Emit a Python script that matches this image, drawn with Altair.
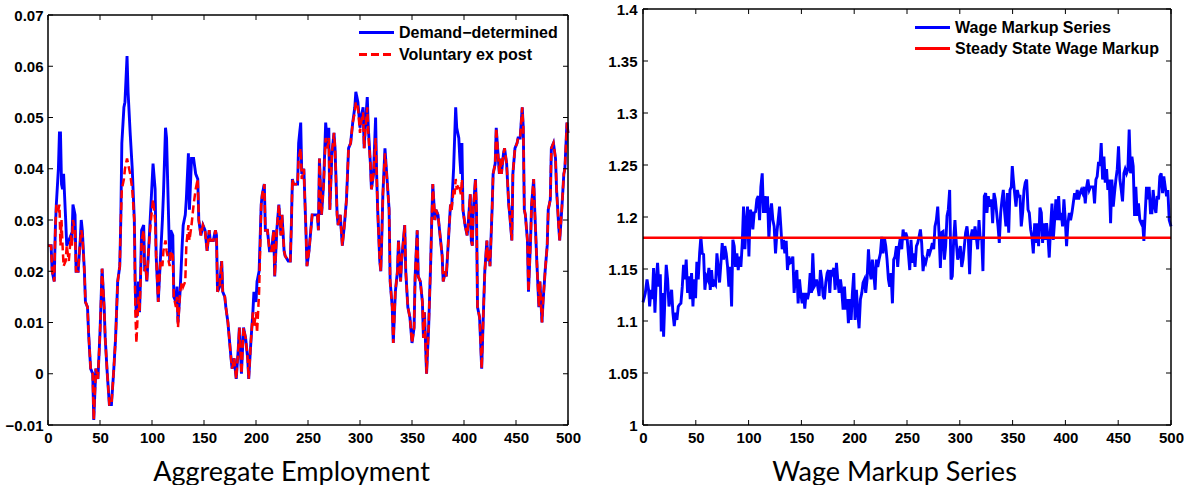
import altair as alt
import pandas as pd

# ---------------- data: Aggregate Employment ----------------
t_emp = [
    0, 3, 4, 6, 7, 8, 10, 11, 12, 13,
    14, 15, 17, 18, 20, 22, 23, 24, 26, 27,
    29, 31, 32, 33, 35, 36, 38, 39, 41, 43,
    44, 46, 48, 50, 52, 54, 55, 57, 59, 61,
    63, 65, 67, 69, 70, 71, 73, 74, 76, 77,
    79, 81, 83, 84, 85, 87, 88, 89, 90, 92,
    93, 94, 95, 97, 99, 101, 103, 104, 106, 108,
    110, 111, 113, 114, 116, 117, 118, 120, 121, 123,
    124, 125, 127, 129, 130, 132, 133, 135, 136, 138,
    140, 142, 144, 145, 147, 149, 151, 153, 155, 156,
    159, 161, 162, 163, 165, 167, 168, 170, 171, 173,
    176, 177, 179, 181, 183, 184, 186, 188, 190, 192,
    193, 195, 197, 198, 200, 201, 203, 205, 206, 208,
    209, 211, 213, 215, 217, 218, 220, 222, 224, 225,
    227, 228, 231, 233, 234, 235, 236, 238, 240, 241,
    243, 244, 246, 248, 249, 251, 254, 257, 259, 260,
    261, 263, 265, 267, 269, 270, 271, 273, 275, 276,
    278, 279, 281, 283, 285, 287, 289, 291, 293, 295,
    296, 298, 300, 301, 303, 304, 305, 307, 308, 310,
    311, 313, 315, 316, 317, 319, 320, 321, 322, 324,
    326, 328, 329, 331, 332, 334, 336, 337, 339, 340,
    343, 344, 346, 348, 350, 352, 353, 355, 356, 358,
    360, 361, 362, 363, 364, 366, 368, 369, 370, 372,
    373, 375, 377, 379, 380, 382, 383, 385, 387, 388,
    390, 391, 392, 393, 395, 396, 397, 398, 399, 401,
    403, 404, 406, 407, 408, 409, 411, 412, 413, 415,
    416, 417, 419, 420, 422, 423, 424, 425, 427, 428,
    430, 431, 432, 434, 435, 436, 438, 439, 441, 443,
    444, 446, 447, 449, 451, 452, 454, 456, 457, 458,
    459, 461, 462, 464, 465, 467, 468, 470, 472, 473,
    475, 476, 478, 480, 481, 483, 484, 486, 488, 489,
    491, 492, 494, 496, 497, 499, 500]

demand = [
    0.025, 0.025, 0.020, 0.018, 0.028, 0.033, 0.040, 0.047, 0.047, 0.037,
    0.036, 0.039, 0.030, 0.025, 0.026, 0.027, 0.026, 0.033, 0.031, 0.020,
    0.020, 0.026, 0.030, 0.028, 0.020, 0.014, 0.013, 0.008, 0.001, 0.000,
    -0.009, 0.001, -0.001, 0.008, 0.0205, 0.013, 0.007, 0.000, -0.006, -0.006,
    0.000, 0.007, 0.018, 0.021, 0.030, 0.045, 0.052, 0.053, 0.062, 0.055,
    0.047, 0.040, 0.030, 0.016, 0.011, 0.018, 0.012, 0.019, 0.028, 0.029,
    0.020, 0.021, 0.018, 0.025, 0.033, 0.041, 0.036, 0.023, 0.014, 0.022,
    0.030, 0.035, 0.048, 0.046, 0.030, 0.022, 0.028, 0.027, 0.015, 0.014,
    0.017, 0.010, 0.016, 0.025, 0.029, 0.031, 0.034, 0.043, 0.032, 0.042,
    0.042, 0.039, 0.038, 0.030, 0.027, 0.029, 0.028, 0.024, 0.028, 0.026,
    0.026, 0.028, 0.027, 0.016, 0.017, 0.022, 0.016, 0.015, 0.013, 0.010,
    0.003, 0.001, 0.003, -0.001, 0.005, 0.009, 0.000, 0.009, 0.007, 0.003,
    -0.001, 0.006, 0.012, 0.016, 0.014, 0.018, 0.020, 0.033, 0.035, 0.037,
    0.028, 0.028, 0.024, 0.024, 0.028, 0.019, 0.028, 0.033, 0.027, 0.031,
    0.024, 0.023, 0.022, 0.022, 0.029, 0.038, 0.037, 0.037, 0.037, 0.045,
    0.049, 0.039, 0.040, 0.028, 0.021, 0.024, 0.031, 0.031, 0.031, 0.028,
    0.042, 0.031, 0.037, 0.049, 0.044, 0.048, 0.032, 0.043, 0.047, 0.044,
    0.031, 0.029, 0.031, 0.025, 0.029, 0.034, 0.044, 0.045, 0.049, 0.052,
    0.055, 0.053, 0.048, 0.050, 0.052, 0.044, 0.048, 0.054, 0.048, 0.041,
    0.036, 0.039, 0.050, 0.039, 0.032, 0.022, 0.020, 0.027, 0.035, 0.044,
    0.038, 0.032, 0.018, 0.013, 0.006, 0.016, 0.020, 0.026, 0.018, 0.022,
    0.029, 0.020, 0.013, 0.011, 0.006, 0.009, 0.019, 0.028, 0.019, 0.018,
    0.014, 0.007, 0.012, 0.006, 0.000, 0.009, 0.022, 0.030, 0.037, 0.030,
    0.032, 0.031, 0.027, 0.023, 0.018, 0.020, 0.019, 0.026, 0.033, 0.032,
    0.040, 0.046, 0.052, 0.048, 0.046, 0.042, 0.039, 0.045, 0.032, 0.029,
    0.027, 0.029, 0.035, 0.026, 0.025, 0.032, 0.038, 0.032, 0.013, 0.011,
    0.006, 0.001, 0.014, 0.020, 0.026, 0.022, 0.024, 0.021, 0.032, 0.039,
    0.041, 0.048, 0.045, 0.039, 0.042, 0.039, 0.043, 0.044, 0.041, 0.033,
    0.031, 0.026, 0.039, 0.044, 0.045, 0.046, 0.046, 0.052, 0.048, 0.032,
    0.031, 0.026, 0.016, 0.026, 0.033, 0.038, 0.032, 0.022, 0.013, 0.018,
    0.010, 0.014, 0.020, 0.025, 0.032, 0.034, 0.044, 0.045, 0.042, 0.036,
    0.029, 0.026, 0.032, 0.039, 0.040, 0.049, 0.047]

voluntary = [
    0.025, 0.025, 0.020, 0.018, 0.028, 0.033, 0.032, 0.033, 0.025, 0.030,
    0.025, 0.021, 0.022, 0.025, 0.022, 0.027, 0.025, 0.030, 0.028, 0.020,
    0.020, 0.026, 0.028, 0.027, 0.020, 0.014, 0.013, 0.008, 0.001, 0.000,
    -0.009, 0.001, -0.001, 0.008, 0.0205, 0.013, 0.007, 0.000, -0.006, -0.006,
    0.000, 0.007, 0.018, 0.021, 0.030, 0.036, 0.038, 0.040, 0.042, 0.041,
    0.039, 0.036, 0.030, 0.012, 0.006, 0.015, 0.012, 0.018, 0.026, 0.028,
    0.020, 0.021, 0.018, 0.025, 0.030, 0.034, 0.030, 0.023, 0.014, 0.022,
    0.021, 0.024, 0.026, 0.024, 0.022, 0.021, 0.024, 0.023, 0.015, 0.013,
    0.015, 0.009, 0.016, 0.018, 0.017, 0.018, 0.025, 0.029, 0.026, 0.029,
    0.033, 0.036, 0.038, 0.030, 0.027, 0.029, 0.028, 0.024, 0.028, 0.026,
    0.026, 0.028, 0.027, 0.016, 0.017, 0.022, 0.016, 0.015, 0.013, 0.010,
    0.003, 0.001, 0.003, -0.001, 0.005, 0.009, 0.000, 0.009, 0.007, 0.003,
    -0.001, 0.006, 0.012, 0.009, 0.012, 0.008, 0.016, 0.033, 0.035, 0.037,
    0.028, 0.028, 0.024, 0.024, 0.028, 0.019, 0.028, 0.033, 0.027, 0.031,
    0.024, 0.023, 0.022, 0.022, 0.029, 0.038, 0.037, 0.037, 0.037, 0.042,
    0.044, 0.038, 0.040, 0.028, 0.021, 0.024, 0.031, 0.031, 0.031, 0.028,
    0.042, 0.031, 0.037, 0.046, 0.044, 0.046, 0.032, 0.043, 0.047, 0.044,
    0.031, 0.029, 0.031, 0.025, 0.029, 0.034, 0.044, 0.045, 0.049, 0.051,
    0.053, 0.052, 0.047, 0.049, 0.051, 0.044, 0.047, 0.052, 0.047, 0.041,
    0.036, 0.039, 0.046, 0.039, 0.032, 0.022, 0.020, 0.027, 0.035, 0.043,
    0.038, 0.032, 0.018, 0.013, 0.006, 0.016, 0.020, 0.026, 0.018, 0.022,
    0.029, 0.020, 0.013, 0.011, 0.006, 0.009, 0.019, 0.028, 0.019, 0.018,
    0.014, 0.007, 0.012, 0.006, 0.000, 0.009, 0.022, 0.030, 0.037, 0.030,
    0.032, 0.031, 0.027, 0.023, 0.018, 0.020, 0.019, 0.026, 0.033, 0.032,
    0.036, 0.035, 0.038, 0.036, 0.037, 0.036, 0.035, 0.038, 0.032, 0.029,
    0.027, 0.029, 0.035, 0.026, 0.025, 0.032, 0.038, 0.032, 0.013, 0.011,
    0.006, 0.001, 0.014, 0.020, 0.026, 0.022, 0.024, 0.021, 0.032, 0.039,
    0.041, 0.048, 0.045, 0.039, 0.042, 0.039, 0.043, 0.044, 0.041, 0.033,
    0.031, 0.026, 0.039, 0.044, 0.045, 0.046, 0.046, 0.052, 0.048, 0.032,
    0.031, 0.026, 0.016, 0.026, 0.033, 0.038, 0.032, 0.022, 0.013, 0.018,
    0.010, 0.014, 0.020, 0.025, 0.032, 0.034, 0.044, 0.045, 0.042, 0.036,
    0.029, 0.026, 0.032, 0.039, 0.040, 0.049, 0.047]

# ---------------- data: Wage Markup Series ----------------
t_wage = [
    0, 2.2, 3.8, 5.3, 6.3, 7.5, 8.8, 10, 11.3, 12.6,
    13.8, 15.1, 16.4, 17.3, 18.6, 19.5, 20.8, 22, 23.3, 24.6,
    25.8, 27.1, 28.3, 29.6, 30.9, 32.1, 33.4, 34.7, 35.9, 37.2,
    38.4, 39.7, 40.9, 42.2, 43.5, 44.7, 46, 47.3, 48.5, 49.8,
    51, 52.3, 53.6, 54.8, 56.1, 57.4, 58.6, 59.9, 61.2, 62.4,
    63.7, 64.9, 66.2, 67.5, 68.7, 70, 71.2, 72.5, 73.8, 75,
    76.3, 77.5, 78.8, 80.1, 81.3, 82.6, 83.9, 85.1, 86.4, 87.6,
    88.9, 90.2, 91.4, 92.7, 94, 95.2, 96.5, 97.7, 99, 100.3,
    101.5, 102.8, 104, 105.3, 106.6, 107.8, 109.1, 110.4, 111.6, 112.9,
    114.1, 115.4, 116.7, 117.9, 119.2, 120.5, 121.7, 123, 124.2, 125.5,
    126.8, 128, 129.3, 130.5, 131.8, 133.1, 134.3, 135.6, 136.8, 138.1,
    139.4, 140.6, 141.9, 143.1, 144.4, 145.7, 146.9, 148.2, 149.4, 150.7,
    152, 153.2, 154.5, 155.8, 157, 158.3, 159.5, 160.8, 162.1, 163.2,
    164.3, 165.5, 166.8, 168, 169.3, 170.6, 171.8, 173.1, 174.4, 175.6,
    176.9, 178.1, 179.4, 180.7, 181.9, 183.2, 184.4, 185.7, 187, 188.2,
    189.5, 190.8, 192, 193.3, 194.5, 195.8, 197.1, 198.3, 199.6, 200.8,
    202.1, 203.4, 204.6, 205.9, 207.2, 208.4, 209.7, 210.9, 212.2, 213.5,
    214.7, 216, 217.2, 218.5, 219.8, 221, 222.3, 223.5, 224.8, 226.1,
    227.3, 228.6, 229.9, 231.1, 232.4, 233.6, 234.9, 236.2, 237.4, 238.7,
    240, 241.2, 242.5, 243.7, 245, 246.3, 247.5, 248.8, 250, 251.3,
    252.6, 253.8, 255.1, 256.3, 257.6, 258.9, 260.1, 261.4, 262.7, 263.9,
    265.2, 266.4, 267.7, 269, 270.2, 271.5, 272.7, 274, 275.3, 276.5,
    277.8, 279.1, 280.3, 281.6, 282.8, 284.1, 285.4, 286.6, 287.9, 289.1,
    290.4, 291.7, 292.9, 294.2, 295.4, 296.7, 298, 299.2, 300.5, 301.8,
    303, 304.3, 305.5, 306.8, 308.1, 309.3, 310.6, 311.8, 313.1, 314.4,
    315.6, 316.9, 318.2, 319.4, 320.7, 321.9, 323.2, 324.5, 325.7, 327,
    328.2, 329.9, 331.1, 332.4, 333.6, 334.9, 336.2, 337.4, 338.7, 340,
    341.2, 342.5, 343.7, 345, 346.3, 347.5, 348.8, 349.7, 350.7, 351.9,
    353.2, 354.5, 355.7, 357, 358.2, 359.5, 360.8, 362, 363.3, 364.6,
    365.8, 367.1, 368.3, 369.6, 370.9, 372.1, 373.4, 374.6, 375.9, 377.2,
    378.4, 379.7, 380.9, 382.2, 383.5, 384.7, 386, 387.3, 388.5, 389.8,
    391, 392.3, 393.6, 394.8, 396.1, 397.3, 398.6, 399.9, 401.1, 402.4,
    403.7, 404.9, 406.2, 407.4, 408.7, 410, 411.2, 412.5, 413.8, 415,
    416.3, 417.5, 418.8, 420.1, 421.3, 422.6, 423.8, 425.1, 426.4, 427.6,
    428.9, 430.1, 431.4, 432.7, 433.9, 435.2, 436.5, 437.7, 439, 440.2,
    441.5, 442.8, 444, 445.3, 446.5, 447.8, 449.1, 450.3, 451.6, 452.9,
    454.1, 455.4, 456.6, 457.9, 459.2, 460.4, 461.7, 463, 464.2, 465.5,
    466.7, 468, 469.2, 470.5, 471.8, 473, 474.3, 475.6, 476.8, 478.1,
    479.3, 480.6, 481.9, 483.1, 484.4, 485.7, 486.9, 488.2, 489.4, 490.7,
    492, 493.2, 494.5, 495.8, 497, 498.3, 500]

wage = [
    1.118, 1.127, 1.140, 1.130, 1.114, 1.130, 1.121, 1.151, 1.108, 1.140,
    1.156, 1.133, 1.145, 1.090, 1.127, 1.085, 1.124, 1.154, 1.140, 1.114,
    1.121, 1.130, 1.108, 1.095, 1.108, 1.101, 1.114, 1.116, 1.117, 1.133,
    1.154, 1.140, 1.159, 1.127, 1.143, 1.121, 1.146, 1.114, 1.140, 1.122,
    1.157, 1.140, 1.165, 1.181, 1.165, 1.164, 1.130, 1.143, 1.140, 1.151,
    1.130, 1.149, 1.133, 1.137, 1.135, 1.165, 1.152, 1.137, 1.156, 1.175,
    1.159, 1.172, 1.165, 1.152, 1.133, 1.152, 1.114, 1.178, 1.172, 1.152,
    1.165, 1.149, 1.162, 1.152, 1.175, 1.210, 1.169, 1.194, 1.210, 1.162,
    1.207, 1.204, 1.188, 1.204, 1.205, 1.217, 1.220, 1.197, 1.229, 1.242,
    1.204, 1.220, 1.204, 1.220, 1.179, 1.204, 1.213, 1.197, 1.191, 1.165,
    1.185, 1.197, 1.210, 1.191, 1.169, 1.178, 1.165, 1.177, 1.149, 1.162,
    1.156, 1.157, 1.162, 1.127, 1.143, 1.149, 1.117, 1.140, 1.127, 1.117,
    1.127, 1.112, 1.127, 1.121, 1.127, 1.146, 1.127, 1.165, 1.133, 1.135,
    1.140, 1.133, 1.124, 1.149, 1.140, 1.124, 1.121, 1.137, 1.146, 1.149,
    1.127, 1.149, 1.146, 1.151, 1.130, 1.156, 1.140, 1.127, 1.140, 1.130,
    1.111, 1.133, 1.111, 1.121, 1.098, 1.121, 1.101, 1.127, 1.146, 1.101,
    1.130, 1.108, 1.093, 1.121, 1.127, 1.137, 1.140, 1.127, 1.140, 1.169,
    1.149, 1.140, 1.159, 1.146, 1.130, 1.159, 1.152, 1.159, 1.165, 1.181,
    1.165, 1.180, 1.172, 1.159, 1.140, 1.133, 1.146, 1.117, 1.159, 1.162,
    1.172, 1.152, 1.172, 1.180, 1.169, 1.188, 1.178, 1.185, 1.181, 1.165,
    1.149, 1.178, 1.156, 1.165, 1.152, 1.172, 1.175, 1.181, 1.188, 1.175,
    1.148, 1.159, 1.156, 1.162, 1.169, 1.165, 1.169, 1.175, 1.169, 1.191,
    1.197, 1.210, 1.185, 1.151, 1.185, 1.186, 1.159, 1.172, 1.201, 1.207,
    1.226, 1.140, 1.143, 1.178, 1.197, 1.175, 1.159, 1.165, 1.172, 1.152,
    1.159, 1.172, 1.185, 1.191, 1.178, 1.145, 1.181, 1.188, 1.178, 1.191,
    1.181, 1.169, 1.197, 1.178, 1.181, 1.148, 1.220, 1.223, 1.204, 1.220,
    1.210, 1.217, 1.194, 1.223, 1.217, 1.204, 1.191, 1.175, 1.204, 1.217,
    1.226, 1.204, 1.191, 1.223, 1.185, 1.226, 1.229, 1.249, 1.236, 1.223,
    1.210, 1.226, 1.220, 1.220, 1.191, 1.204, 1.226, 1.233, 1.236, 1.207,
    1.204, 1.188, 1.181, 1.165, 1.194, 1.175, 1.194, 1.172, 1.209, 1.204,
    1.175, 1.194, 1.178, 1.194, 1.181, 1.161, 1.191, 1.213, 1.178, 1.197,
    1.217, 1.197, 1.220, 1.197, 1.204, 1.191, 1.217, 1.197, 1.172, 1.194,
    1.204, 1.197, 1.204, 1.213, 1.223, 1.217, 1.226, 1.217, 1.223, 1.226,
    1.223, 1.229, 1.213, 1.229, 1.236, 1.226, 1.229, 1.229, 1.229, 1.213,
    1.236, 1.239, 1.253, 1.249, 1.271, 1.236, 1.258, 1.233, 1.246, 1.226,
    1.236, 1.194, 1.236, 1.210, 1.223, 1.236, 1.246, 1.268, 1.236, 1.226,
    1.215, 1.242, 1.246, 1.242, 1.246, 1.284, 1.242, 1.258, 1.249, 1.201,
    1.229, 1.201, 1.213, 1.197, 1.194, 1.197, 1.177, 1.204, 1.229, 1.217,
    1.229, 1.204, 1.204, 1.226, 1.210, 1.204, 1.220, 1.217, 1.239, 1.242,
    1.223, 1.239, 1.229, 1.220, 1.226, 1.197, 1.191]

steady_state = 1.18

emp_series = ["Demand\u2212determined", "Voluntary ex post"]
wage_series = ["Wage Markup Series", "Steady State Wage Markup"]
x_ticks = [0, 50, 100, 150, 200, 250, 300, 350, 400, 450, 500]
emp_y_ticks = [-0.01, 0, 0.01, 0.02, 0.03, 0.04, 0.05, 0.06, 0.07]
wage_y_ticks = [1, 1.05, 1.1, 1.15, 1.2, 1.25, 1.3, 1.35, 1.4]
emp_range = [-0.01, 0.07]
wage_range = [1.0, 1.4]
t_range = [0, 500]

# ---------------- styling ----------------
BLUE = "#0000ff"
RED = "#ff0000"
W1, W2, H = 520, 528, 416
LEFT_TOP_GAP = 6          # left box starts 6px lower than the right one
TICK = 5
LABEL_FONT = "Liberation Sans"
TITLE_FONT = "Lato"
LABEL_SIZE = 15
LEGEND_SIZE = 16
LINE_SYMBOL = "M-2.5,0H2.5"   # a 35px line at symbolSize 196

emp_span = emp_range[1] - emp_range[0]
emp_dom_top = emp_range[1] + LEFT_TOP_GAP * emp_span / (H - LEFT_TOP_GAP)


def legend(x, y, rowpad):
    return alt.Legend(
        orient="none", legendX=x, legendY=y, padding=0,
        symbolType=LINE_SYMBOL, symbolSize=196, symbolStrokeWidth=3,
        labelFont=LABEL_FONT, labelFontWeight="bold", labelFontSize=LEGEND_SIZE,
        labelColor="black", labelOffset=14, labelLimit=400, rowPadding=rowpad,
    )


def frame_and_ticks(xscale, yscale, yr, yt, w, tick_units):
    """Box outline and inward ticks, positioned through the panel scales."""
    lo, hi = yr
    box_h = pd.DataFrame({"x0": [t_range[0]] * 2, "x1": [t_range[1]] * 2, "v": [lo, hi]})
    box_v = pd.DataFrame({"t": t_range, "lo": [lo, lo], "hi": [hi, hi]})
    tb = pd.DataFrame({"t": x_ticks, "a": [lo] * len(x_ticks), "b": [lo + tick_units] * len(x_ticks)})
    tt = pd.DataFrame({"t": x_ticks, "a": [hi] * len(x_ticks), "b": [hi - tick_units] * len(x_ticks)})
    ty = pd.DataFrame({"v": yt})
    sx = lambda f: alt.X(f, scale=xscale)
    sy = lambda f: alt.Y(f, scale=yscale)
    k = dict(color="black")
    return [
        alt.Chart(box_h).mark_rule(strokeWidth=1.5, **k).encode(x=sx("x0:Q"), x2="x1:Q", y=sy("v:Q")),
        alt.Chart(box_v).mark_rule(strokeWidth=1.5, **k).encode(x=sx("t:Q"), y=sy("lo:Q"), y2="hi:Q"),
        alt.Chart(tb).mark_rule(strokeWidth=1, **k).encode(x=sx("t:Q"), y=sy("a:Q"), y2="b:Q"),
        alt.Chart(tt).mark_rule(strokeWidth=1, **k).encode(x=sx("t:Q"), y=sy("a:Q"), y2="b:Q"),
        alt.Chart(ty).mark_rule(strokeWidth=1, **k).encode(y=sy("v:Q"), x=alt.value(0), x2=alt.value(TICK)),
        alt.Chart(ty).mark_rule(strokeWidth=1, **k).encode(y=sy("v:Q"), x=alt.value(w), x2=alt.value(w - TICK)),
    ]


# ---------------- left panel ----------------
xs1 = alt.Scale(domain=t_range, nice=False, zero=False)
ys1 = alt.Scale(domain=[emp_range[0], emp_dom_top], nice=False, zero=False)

df_d = pd.DataFrame({"t": t_emp, "v": demand, "series": emp_series[0]})
df_v = pd.DataFrame({"t": t_emp, "v": voluntary, "series": emp_series[1]})

x_axis1 = alt.Axis(values=x_ticks, title="Aggregate Employment", titleX=243,
                   titleY=55, titleBaseline="alphabetic", titleAlign="center",
                   labelPadding=5, labelFlush=False)
y_axis1 = alt.Axis(values=emp_y_ticks, format="~g", labelPadding=5, title=None)

leg1 = legend(320, 15, 5)
color1 = alt.Color("series:N", scale=alt.Scale(domain=emp_series, range=[BLUE, RED]),
                   legend=leg1, title=None)
dash1 = alt.StrokeDash("series:N", scale=alt.Scale(domain=emp_series, range=[[1, 0], [8, 4]]),
                       legend=leg1, title=None)

line_d = alt.Chart(df_d).mark_line(strokeWidth=2.9).encode(
    x=alt.X("t:Q", scale=xs1, axis=x_axis1),
    y=alt.Y("v:Q", scale=ys1, axis=y_axis1),
    color=color1, strokeDash=dash1,
)
line_v = alt.Chart(df_v).mark_line(strokeWidth=2.5).encode(
    x=alt.X("t:Q", scale=xs1),
    y=alt.Y("v:Q", scale=ys1),
    color=color1, strokeDash=dash1,
)
emp_tick_units = TICK * (emp_dom_top - emp_range[0]) / H
left = alt.layer(
    line_d, line_v, *frame_and_ticks(xs1, ys1, emp_range, emp_y_ticks, W1, emp_tick_units)
).properties(width=W1, height=H)

# ---------------- right panel ----------------
xs2 = alt.Scale(domain=t_range, nice=False, zero=False)
ys2 = alt.Scale(domain=wage_range, nice=False, zero=False)

df_w = pd.DataFrame({"t": t_wage, "v": wage, "series": wage_series[0]})
df_s = pd.DataFrame({"v": [steady_state], "series": [wage_series[1]]})

x_axis2 = alt.Axis(values=x_ticks, title="Wage Markup Series", titleX=251,
                   titleY=55, titleBaseline="alphabetic", titleAlign="center",
                   labelPadding=5, labelFlush=False)
y_axis2 = alt.Axis(values=wage_y_ticks, format="~g", labelPadding=6, title=None)

color2 = alt.Color("series:N", scale=alt.Scale(domain=wage_series, range=[BLUE, RED]),
                   legend=legend(281, 10, 4), title=None)

line_w = alt.Chart(df_w).mark_line(strokeWidth=2.9).encode(
    x=alt.X("t:Q", scale=xs2, axis=x_axis2),
    y=alt.Y("v:Q", scale=ys2, axis=y_axis2),
    color=color2,
)
rule_s = alt.Chart(df_s).mark_rule(strokeWidth=2.4).encode(
    y=alt.Y("v:Q", scale=ys2),
    color=color2,
)
wage_tick_units = TICK * (wage_range[1] - wage_range[0]) / H
right = alt.layer(
    line_w, rule_s, *frame_and_ticks(xs2, ys2, wage_range, wage_y_ticks, W2, wage_tick_units)
).properties(width=W2, height=H)

chart = alt.hconcat(left, right, spacing=75, bounds="flush").resolve_scale(
    color="independent", strokeDash="independent"
).properties(
    padding={"left": 5, "top": 2, "right": 0, "bottom": 0},
    background="white",
).configure_view(
    strokeOpacity=0
).configure_axis(
    domain=False, ticks=False, grid=False,
    labelFont=LABEL_FONT, labelFontWeight="bold", labelFontSize=LABEL_SIZE, labelColor="black",
    titleFont=TITLE_FONT, titleFontWeight="normal", titleFontSize=27, titleColor="black",
)

chart.save("out.html", embed_options={"renderer": "svg", "actions": False})
